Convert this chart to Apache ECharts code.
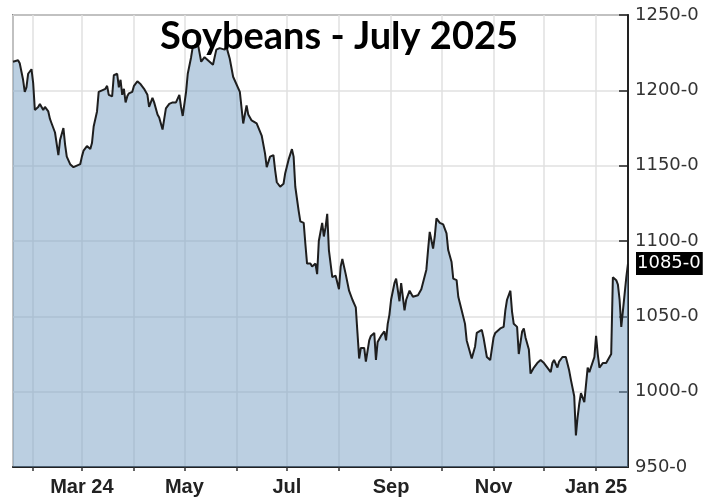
<!DOCTYPE html>
<html>
<head>
<meta charset="utf-8">
<script src="https://cdn.jsdelivr.net/npm/echarts@6/dist/echarts.min.js"></script>
<style>
html,body{margin:0;padding:0;background:#fff;}
#chart{width:720px;height:503px;}
</style>
</head>
<body>
<div id="chart"></div>
<script>
const titleText = 'Soybeans - July 2025';
const lastLabel = '1085-0';
const yTicks = [950, 1000, 1050, 1100, 1150, 1200, 1250];

const dates = [
'2024-01-20','2024-01-23','2024-01-24','2024-01-26','2024-01-27','2024-01-28','2024-01-29','2024-01-31',
'2024-02-01','2024-02-02','2024-02-04','2024-02-05','2024-02-07','2024-02-08','2024-02-10','2024-02-11','2024-02-12','2024-02-14','2024-02-16','2024-02-17','2024-02-19','2024-02-20','2024-02-21','2024-02-23','2024-02-25','2024-02-27','2024-02-29',
'2024-03-01','2024-03-02','2024-03-04','2024-03-06','2024-03-07','2024-03-08','2024-03-10','2024-03-11','2024-03-13','2024-03-15','2024-03-16','2024-03-17','2024-03-19','2024-03-20','2024-03-22','2024-03-23','2024-03-24','2024-03-25','2024-03-26','2024-03-27','2024-03-28','2024-03-29','2024-03-31',
'2024-04-01','2024-04-03','2024-04-05','2024-04-07','2024-04-09','2024-04-10','2024-04-12','2024-04-13','2024-04-15','2024-04-16','2024-04-18','2024-04-19','2024-04-20','2024-04-22','2024-04-24','2024-04-26','2024-04-28','2024-04-29','2024-04-30',
'2024-05-02','2024-05-03','2024-05-05','2024-05-06','2024-05-09','2024-05-11','2024-05-13','2024-05-15','2024-05-18','2024-05-20','2024-05-22','2024-05-25','2024-05-26','2024-05-28','2024-05-30',
'2024-06-03','2024-06-05','2024-06-07','2024-06-08','2024-06-10','2024-06-13','2024-06-16','2024-06-18','2024-06-19','2024-06-21','2024-06-23','2024-06-24','2024-06-25','2024-06-27','2024-06-29','2024-06-30',
'2024-07-02','2024-07-04','2024-07-05','2024-07-06','2024-07-08','2024-07-09','2024-07-11','2024-07-12','2024-07-13','2024-07-15','2024-07-16','2024-07-18','2024-07-19','2024-07-20','2024-07-22','2024-07-23','2024-07-24','2024-07-25','2024-07-26','2024-07-28','2024-07-30',
'2024-08-01','2024-08-02','2024-08-03','2024-08-05','2024-08-07','2024-08-09','2024-08-11','2024-08-12','2024-08-13','2024-08-14','2024-08-16','2024-08-17','2024-08-19','2024-08-20','2024-08-22','2024-08-23','2024-08-24','2024-08-26','2024-08-28','2024-08-29','2024-08-30','2024-08-31',
'2024-09-01','2024-09-03','2024-09-04','2024-09-06','2024-09-07','2024-09-09','2024-09-10','2024-09-12','2024-09-14','2024-09-17','2024-09-19','2024-09-20','2024-09-22','2024-09-23','2024-09-24','2024-09-26','2024-09-27','2024-09-28','2024-09-30',
'2024-10-02','2024-10-04','2024-10-05','2024-10-07','2024-10-08','2024-10-10','2024-10-11','2024-10-13','2024-10-15','2024-10-16','2024-10-17','2024-10-19','2024-10-21','2024-10-22','2024-10-25','2024-10-26','2024-10-28','2024-10-30',
'2024-11-01','2024-11-02','2024-11-05','2024-11-07','2024-11-08','2024-11-09','2024-11-11','2024-11-12','2024-11-13','2024-11-15','2024-11-16','2024-11-18','2024-11-19','2024-11-20','2024-11-22','2024-11-23','2024-11-25','2024-11-27','2024-11-29',
'2024-12-01','2024-12-02','2024-12-03','2024-12-05','2024-12-06','2024-12-07','2024-12-09','2024-12-10','2024-12-12','2024-12-14','2024-12-16','2024-12-17','2024-12-19','2024-12-20','2024-12-21','2024-12-22','2024-12-23','2024-12-25','2024-12-27','2024-12-28','2024-12-29','2024-12-31',
'2025-01-01','2025-01-02','2025-01-03','2025-01-05','2025-01-07','2025-01-08','2025-01-10','2025-01-11','2025-01-13','2025-01-14','2025-01-15','2025-01-16','2025-01-17','2025-01-19','2025-01-20'
];

const prices = [
1219,1220,1218,1207,1199,1202,1211,1214,
1205,1187,1189,1191,1187,1189,1186,1181,1178,1172,1157,1167,1175,1164,1156,1151,1149,1150,1151,
1156,1160,1163,1161,1165,1176,1186,1199,1200,1201,1203,1197,1196,1210,1211,1202,1207,1197,1201,1192,1196,1198,1199,
1203,1206,1204,1201,1197,1189,1195,1192,1184,1182,1174,1181,1188,1191,1192,1192,1197,1189,1183,
1199,1211,1222,1229,1231,1219,1222,1220,1217,1227,1228,1227,1229,1221,1209,
1199,1178,1190,1184,1180,1178,1170,1158,1149,1156,1157,1147,1139,1136,1138,1145,
1154,1161,1156,1136,1120,1113,1112,1098,1085,1085,1083,1085,1078,1100,1112,1103,1109,1118,1094,1076,1077,
1068,1083,1088,1078,1067,1061,1056,1039,1022,1029,1029,1020,1034,1037,1039,1021,1033,1037,1040,1034,1045,1051,
1061,1072,1075,1060,1072,1054,1061,1067,1063,1064,1068,1068,1081,1094,1106,1095,1103,1115,1112,
1111,1105,1094,1086,1075,1074,1063,1054,1045,1034,1033,1022,1030,1039,1041,1036,1023,1021,
1036,1039,1042,1043,1054,1061,1067,1053,1045,1043,1025,1040,1042,1036,1028,1012,1016,1019,1021,
1019,1020,1016,1013,1019,1021,1016,1020,1023,1023,1014,1008,997,971,983,992,999,993,1016,1013,1012,1023,
1037,1025,1016,1019,1019,1018,1025,1076,1074,1071,1061,1043,1054,1076,1085
];

const monthNames = ['Jan','Feb','Mar','Apr','May','Jun','Jul','Aug','Sep','Oct','Nov','Dec'];
const seriesData = dates.map((d, i) => [d, prices[i]]);

const chart = echarts.init(document.getElementById('chart'), null, {renderer: 'canvas'});
const DAY = 86400000;
chart.setOption({
  animation: false,
  backgroundColor: '#ffffff',
  title: {
    text: titleText,
    left: 334,
    top: 13,
    textAlign: 'center',
    textStyle: {fontFamily: 'Lato', fontWeight: 'bold', fontSize: 38, color: '#000'}
  },
  grid: {
    left: 13, right: 92, top: 15, bottom: 36,
    show: true, borderColor: '#333', borderWidth: 1.5, backgroundColor: 'transparent'
  },
  xAxis: {
    type: 'time',
    min: '2024-01-20',
    max: '2025-01-20',
    minInterval: 28 * DAY,
    maxInterval: 31 * DAY,
    axisLine: {show: true, onZero: false, lineStyle: {color: '#222', width: 2}},
    axisTick: {show: true, length: 4, lineStyle: {color: '#333', width: 1.5}},
    axisLabel: {
      fontFamily: 'Liberation Sans', fontWeight: 'bold', fontSize: 20, color: '#222', margin: 10,
      formatter: function (val) {
        const d = new Date(val);
        const m = d.getMonth();
        if (m % 2 !== 0) return '';
        const y = d.getFullYear();
        if (m === 2 && y === 2024) return 'Mar 24';
        if (m === 0) return 'Jan ' + String(y).slice(2);
        return monthNames[m];
      }
    },
    splitLine: {show: true, lineStyle: {color: '#e0e0e0', width: 1.5}}
  },
  yAxis: {
    type: 'value',
    position: 'right',
    min: 950, max: 1250, interval: 50,
    axisLine: {show: true, lineStyle: {color: '#222', width: 2}},
    axisTick: {show: true, inside: true, length: 9, lineStyle: {color: '#222', width: 1.5}},
    axisLabel: {
      fontFamily: 'DejaVu Sans', fontSize: 18, color: '#333', margin: 7,
      formatter: function (v) { return v + '-0'; }
    },
    splitLine: {show: true, lineStyle: {color: '#e0e0e0', width: 1.5}}
  },
  series: [{
    type: 'line',
    data: seriesData,
    showSymbol: false,
    symbol: 'none',
    clip: false,
    lineStyle: {color: '#1e1e1e', width: 2},
    areaStyle: {color: 'rgb(120,160,195)', opacity: 0.5, origin: 'start'},
    endLabel: {
      show: true,
      formatter: lastLabel,
      backgroundColor: '#000',
      color: '#fff',
      fontFamily: 'DejaVu Sans',
      fontSize: 18,
      padding: [3, 2, 2, 1],
      distance: 8
    }
  }]
});
</script>
</body>
</html>
